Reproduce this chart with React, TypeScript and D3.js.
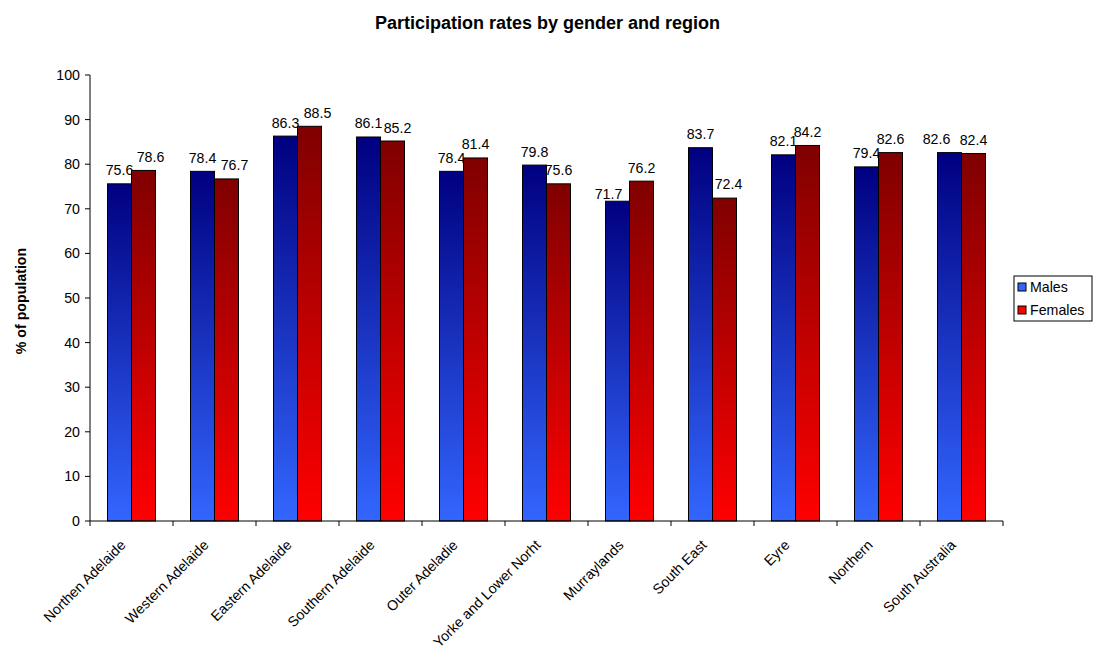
import React from "react";
import * as d3 from "d3";

const categories = [
  "Northen Adelaide",
  "Western Adelaide",
  "Eastern Adelaide",
  "Southern Adelaide",
  "Outer Adeladie",
  "Yorke and Lower Norht",
  "Murraylands",
  "South East",
  "Eyre",
  "Northern",
  "South Australia",
];
const males = [75.6, 78.4, 86.3, 86.1, 78.4, 79.8, 71.7, 83.7, 82.1, 79.4, 82.6];
const females = [78.6, 76.7, 88.5, 85.2, 81.4, 75.6, 76.2, 72.4, 84.2, 82.6, 82.4];
const seriesNames = ["Males", "Females"];
const yTicks = [0, 10, 20, 30, 40, 50, 60, 70, 80, 90, 100];

const W = 1093;
const H = 653;
const plot = { left: 90, right: 1003, top: 75, bottom: 521 };
const FONT = "'Liberation Sans', Arial, sans-serif";
const FS = 14.2;

// Value labels are nudged sideways where neighbouring labels would collide
const labelShift = [
  [[0, 0], [0, 0], [0, 0], [0, 0], [0, 0], [0, 0], [-9, 6], [0, 0], [0, 0], [0, 0], [-13, 0]],
  [[7, 0], [8, 0], [8, 0], [5, 0], [0, 0], [0, 0], [0, 0], [4, -1], [0, 0], [0, 0], [0, 0]],
];

const gradients = [
  { id: "gradMales", top: "#000080", bottom: "#3366ff" },
  { id: "gradFemales", top: "#800000", bottom: "#ff0000" },
];

export default function App() {
  const x = d3.scaleBand<string>().domain(categories).range([plot.left, plot.right]).padding(0);
  const bw = x.bandwidth();
  const pad = (bw / 24 - 2) / 2;
  const xs = d3.scaleBand<string>().domain(seriesNames).range([0, bw]).paddingInner(0).paddingOuter(pad);
  const y = d3.scaleLinear().domain([0, 100]).range([plot.bottom, plot.top]);
  const values = [males, females];

  return (
    <svg width={W} height={H} style={{ position: "absolute", left: 0, top: 0, fontFamily: FONT }}>
      <defs>
        {gradients.map((g) => (
          <linearGradient key={g.id} id={g.id} x1="0" y1="0" x2="0" y2="1">
            <stop offset="0%" stopColor={g.top} />
            <stop offset="100%" stopColor={g.bottom} />
          </linearGradient>
        ))}
      </defs>
      <rect x={0} y={0} width={W} height={H} fill="#fff" />

      <text x={547.5} y={29} textAnchor="middle" fontSize={18} fontWeight="bold" fill="#000">
        Participation rates by gender and region
      </text>

      {/* y axis */}
      <line x1={plot.left} x2={plot.left} y1={plot.top} y2={plot.bottom} stroke="#000" />
      {yTicks.map((t) => (
        <g key={t}>
          <line x1={plot.left - 5} x2={plot.left} y1={y(t)} y2={y(t)} stroke="#000" />
          <text x={plot.left - 10} y={y(t)} dy="0.35em" textAnchor="end" fontSize={FS} fill="#000">
            {t}
          </text>
        </g>
      ))}
      <text
        transform={`translate(21,${(plot.top + plot.bottom) / 2 + 3}) rotate(-90)`}
        textAnchor="middle"
        dy="0.35em"
        fontSize={FS}
        fontWeight="bold"
        fill="#000"
      >
        % of population
      </text>

      {/* bars */}
      {categories.map((c, i) => (
        <g key={c}>
          {seriesNames.map((s, k) => {
            const v = values[k][i];
            const bx = (x(c) as number) + (xs(s) as number);
            const [ddx, ddy] = labelShift[k][i];
            return (
              <g key={s}>
                <rect
                  x={bx}
                  y={y(v)}
                  width={xs.bandwidth()}
                  height={y(0) - y(v)}
                  fill={`url(#${gradients[k].id})`}
                  stroke="#000"
                  strokeWidth={1}
                />
                <text
                  x={bx + xs.bandwidth() / 2 + ddx}
                  y={y(v) - 8.5 + ddy}
                  textAnchor="middle"
                  fontSize={FS}
                  fill="#000"
                >
                  {v.toFixed(1)}
                </text>
              </g>
            );
          })}
        </g>
      ))}

      {/* x axis */}
      <line x1={plot.left} x2={plot.right} y1={plot.bottom} y2={plot.bottom} stroke="#000" />
      {categories.concat([""]).map((c, i) => {
        const tx = plot.left + i * bw;
        return <line key={i} x1={tx} x2={tx} y1={plot.bottom} y2={plot.bottom + 5} stroke="#000" />;
      })}
      {categories.map((c) => {
        const cx = (x(c) as number) + bw / 2;
        return (
          <text
            key={c}
            transform={`translate(${cx - 12},${plot.bottom + 18}) rotate(-45)`}
            textAnchor="end"
            dy="0.7em"
            fontSize={FS}
            fill="#000"
          >
            {c}
          </text>
        );
      })}

      {/* legend */}
      <rect x={1014} y={276} width={78} height={45} fill="#fff" stroke="#000" />
      {seriesNames.map((s, k) => (
        <g key={s} transform={`translate(1018,${287 + k * 23})`}>
          <rect x={0} y={-4} width={8} height={8} fill={gradients[k].bottom} stroke="#000" />
          <text x={12} y={0} dy="0.35em" fontSize={FS} fill="#000">
            {s}
          </text>
        </g>
      ))}
    </svg>
  );
}
